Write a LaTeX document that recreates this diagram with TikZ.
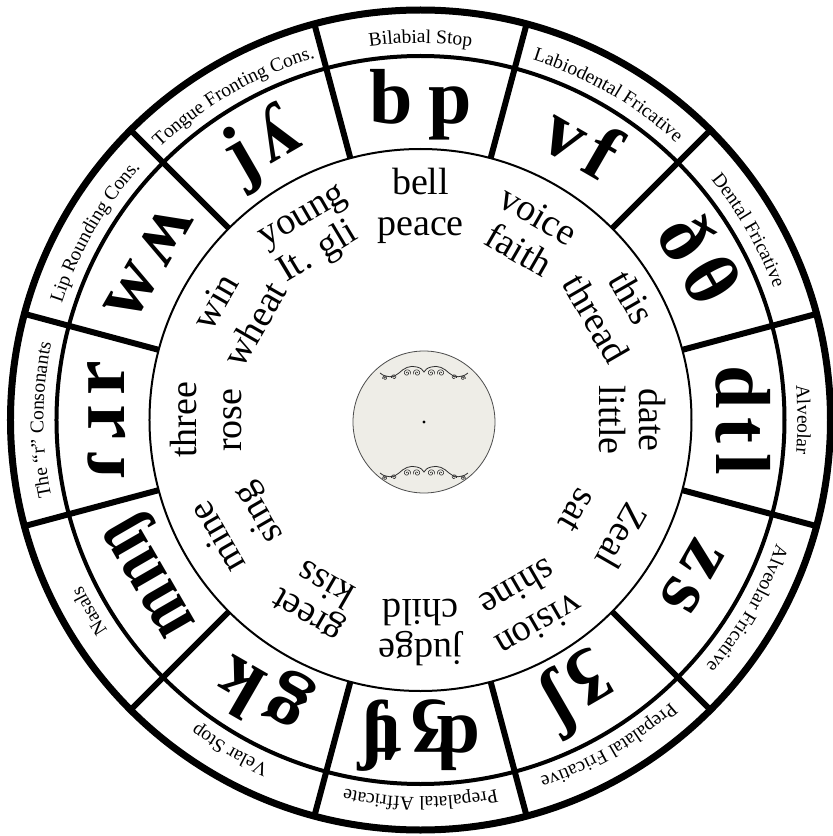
\documentclass[tikz,border=0pt]{standalone}
\usepackage{fontspec}
\setmainfont{Liberation Serif}
\usetikzlibrary{decorations.text}
\definecolor{diskfill}{HTML}{EEEDE7}
\definecolor{orncol}{HTML}{2E2E2E}
\newcommand\lblfont{\fontsize{19.5}{21}\selectfont}
\newcommand\ipagap{\kern0.12em}
\tikzset{
  ipa/.style={font=\fontsize{78}{80}\selectfont\bfseries, anchor=base, inner sep=0pt},
  word/.style={font=\fontsize{38}{42}\selectfont, anchor=base, inner sep=0pt},
  divider/.style={line width=6pt},
  orn/.style={draw=orncol, line width=0.8pt},
}
\newcommand\lbl[3]{\path[decorate,decoration={text along path,text={|\lblfont|#3},text align=center}] (#1+15:377pt) arc[start angle=#1+15,end angle=#1-15,radius=377pt] coordinate (#2);}
\newcommand\sector[7]{%
  \node[ipa,rotate=#2-90] (ipa#1) at (#2:296pt) {#3};
  \node[word,rotate=#2-90] (wo#1) at (#2:#5pt) {#4};
  \node[word,rotate=#2-90] (wi#1) at (#2:#7pt) {#6};}
\newcommand\curl[4]{\draw[orn,line width=0.6pt] plot[domain=0:560,samples=40,smooth] ({#1+#4*(0.4+\x/560*#3)*cos(\x)},{#2+(0.4+\x/560*#3)*sin(\x)});}
\newcommand\ornament{%
  \draw[orn] (-44,-1) .. controls (-38,-6) and (-30,-6) .. (-25,-1) .. controls (-20,4) and (-14,7) .. (-7,5) .. controls (-3,4) and (-1,2) .. (0,0) .. controls (1,2) and (3,4) .. (7,5) .. controls (14,7) and (20,4) .. (25,-1) .. controls (30,-6) and (38,-6) .. (44,-1);
  \curl{-39}{-6}{2}{1}\curl{39}{-6}{2}{-1}
  \curl{-30}{-5}{2.2}{1}\curl{30}{-5}{2.2}{-1}
  \curl{-17}{-1}{3.4}{-1}\curl{17}{-1}{3.4}{1}
  \curl{-7}{-1}{3.4}{1}\curl{7}{-1}{3.4}{-1}}
\begin{document}
\begin{tikzpicture}[x=1pt,y=1pt]
\useasboundingbox (-420.5,-416) rectangle (412.5,420);
\fill[white] (-420.5,-416) rectangle (412.5,420);
% rings
\draw[line width=7pt] (0,0) circle (410pt);
\draw[line width=4pt] (0,0) circle (364pt);
\draw[line width=2pt] (0,0) circle (271pt);
\foreach \a in {15,45,...,345} \draw[divider] (\a:271pt) -- (\a:410pt);
% outer labels
\lbl{90}{l1}{Bilabial Stop}
\lbl{60}{l2}{Labiodental Fricative}
\lbl{30}{l3}{Dental Fricative}
\lbl{0}{l4}{Alveolar}
\lbl{-30}{l5}{Alveolar Fricative}
\lbl{-60}{l6}{Prepalatal Fricative}
\lbl{-90}{l7}{Prepalatal Affricate}
\lbl{-120}{l8}{Velar Stop}
\lbl{-150}{l9}{Nasals}
\lbl{180}{l10}{The “r” Consonants}
\lbl{150}{l11}{Lip Rounding Cons.}
\lbl{120}{l12}{Tongue Fronting Cons.}
% sectors
\sector{A}{90}{b\kern0.2em p}{bell}{225}{peace}{184}
\sector{B}{60}{v\ipagap f}{voice}{224}{faith}{184}
\sector{C}{30}{ð\ipagap θ}{this}{232}{thread}{190}
\sector{D}{0}{d\ipagap t\ipagap l}{date}{219}{little}{179}
\sector{E}{-30}{z\ipagap s}{Zeal}{220}{sat}{170}
\sector{F}{-60}{ʒ\ipagap ʃ}{vision}{225}{shine}{182}
\sector{G}{-90}{ʤ\ipagap ʧ}{judge}{219}{child}{179}
\sector{H}{-120}{g\ipagap k}{greet}{215}{kiss}{178}
\sector{I}{-150}{\scalebox{0.82}[1]{m\kern0.03em n\kern0.03em ŋ}}{mine}{223}{sing}{177}
\sector{J}{180}{ɾ\ipagap ɹ\ipagap r}{three}{224}{rose}{179}
\sector{K}{150}{w\ipagap ʍ}{win}{225}{wheat}{179}
\node[ipa,rotate=30] (ipaL) at (120:296pt) {j\ipagap ʎ};
\node[word,rotate=30] (woL) at (120:227pt) {young};
\node[word,rotate=31] (wiL) at (121.5:187pt) {It. gli};
% hub
\node[circle, draw=gray!60!black, fill=diskfill, line width=0.8pt, minimum size=142pt, inner sep=0pt] (hub) at (3.5,-2) {};
\fill (hub.center) circle (1.6pt);
\begin{scope}[shift={(3.5,48)}]\ornament\end{scope}
\begin{scope}[shift={(3.5,-52)}]\ornament\end{scope}
\end{tikzpicture}
\end{document}
